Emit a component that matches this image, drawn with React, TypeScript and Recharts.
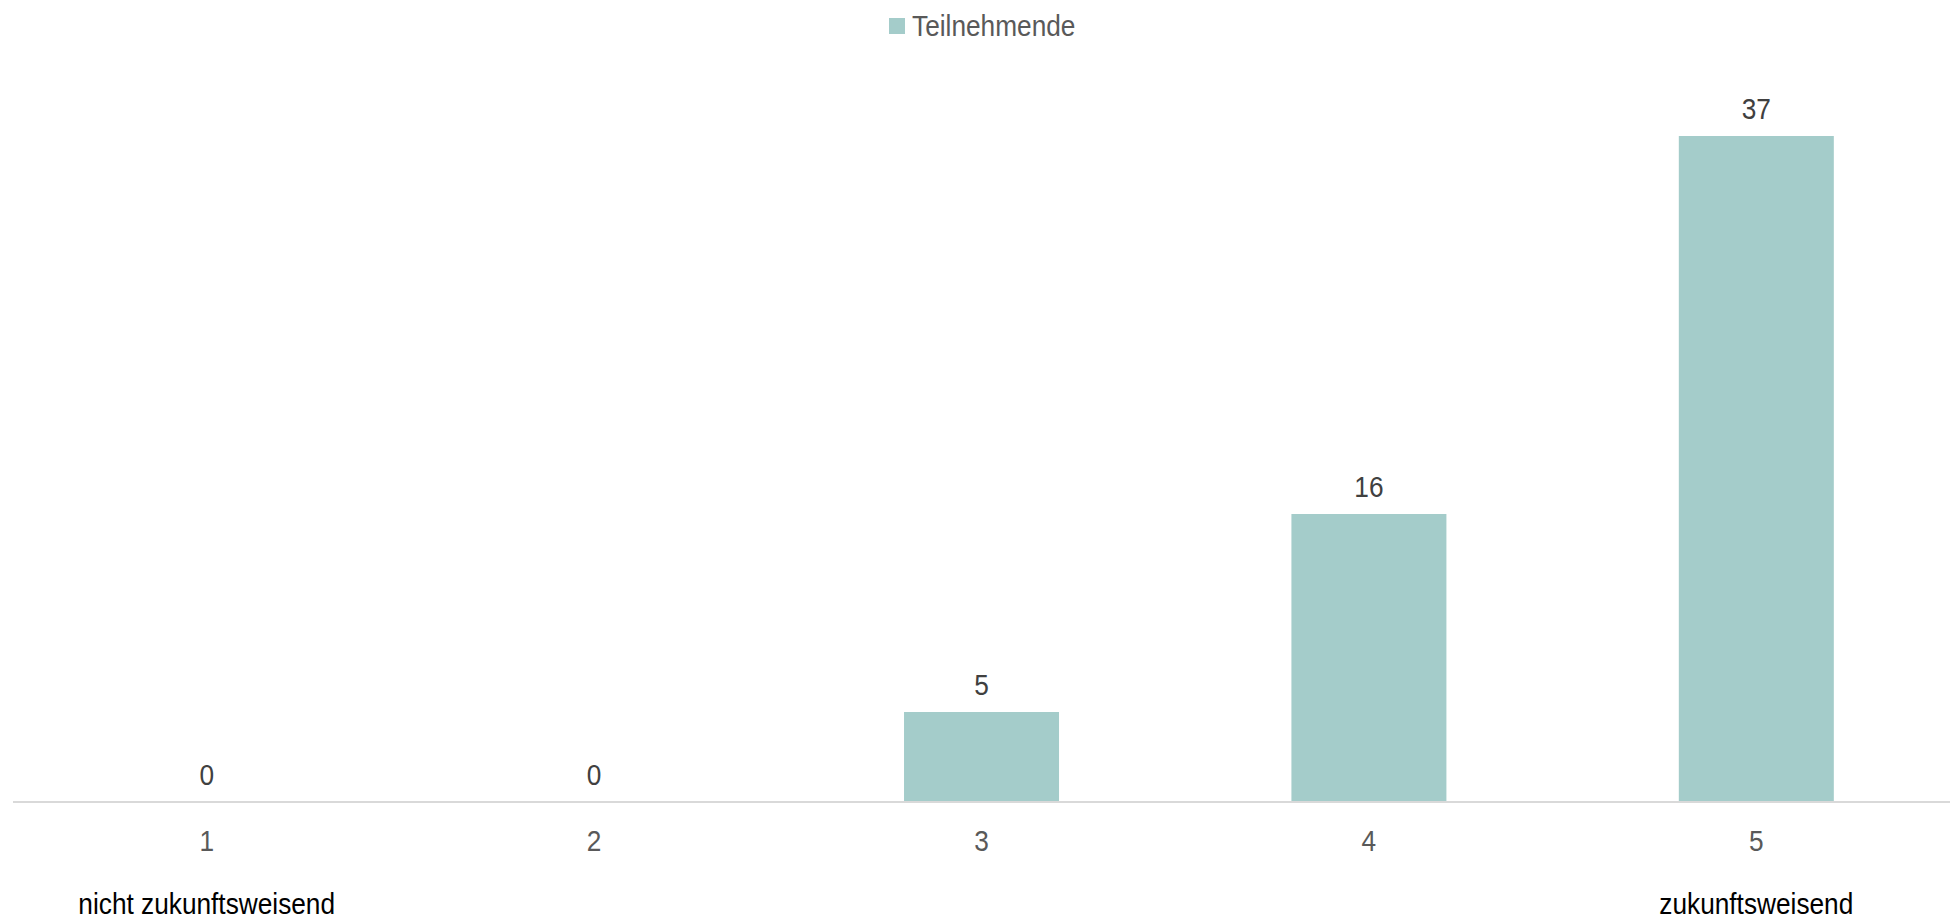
import { Bar, BarChart, LabelList, Legend, XAxis, YAxis } from 'recharts'

const categories = ['1', '2', '3', '4', '5']
const participants = [0, 0, 5, 16, 37]
const scaleHints = ['nicht zukunftsweisend', '', '', '', 'zukunftsweisend']
const seriesName = 'Teilnehmende'

const data = categories.map((c, i) => ({
  cat: c,
  value: participants[i],
}))

// no narrow font installed, so squeeze the regular one a bit
const FONT = "'Liberation Sans', Arial, sans-serif"
const SQUEEZE = 0.875
const BAR_COLOR = '#A4CCCA'

function NarrowText({ x, y, fill, children }: any) {
  return (
    <text
      transform={`translate(${x},${y}) scale(${SQUEEZE},1)`}
      x={0}
      y={0}
      textAnchor="middle"
      fill={fill}
      fontSize={30}
      fontFamily={FONT}
    >
      {children}
    </text>
  )
}

function CategoryTick(props: any) {
  const { x, y, payload, index } = props
  const hint = scaleHints[index] ?? ''
  return (
    <g>
      <NarrowText x={x} y={y + 41} fill="#595959">{payload.value}</NarrowText>
      {hint && <NarrowText x={x} y={y + 104} fill="#000000">{hint}</NarrowText>}
    </g>
  )
}

function ValueLabel(props: any) {
  const { x, y, width, value } = props
  return (
    <NarrowText x={Number(x) + Number(width) / 2} y={Number(y) - 17} fill="#404040">
      {value}
    </NarrowText>
  )
}

function LegendContent() {
  return (
    <div style={{ display: 'flex', justifyContent: 'center', alignItems: 'center', fontFamily: FONT }}>
      <span style={{ width: 16, height: 16, background: BAR_COLOR, display: 'inline-block', marginRight: 7 }} />
      <span
        style={{
          fontSize: 30,
          color: '#595959',
          lineHeight: '36px',
          display: 'inline-block',
          width: 163,
          whiteSpace: 'nowrap',
        }}
      >
        <span style={{ display: 'inline-block', transform: `scaleX(${SQUEEZE})`, transformOrigin: 'left center' }}>
          {seriesName}
        </span>
      </span>
    </div>
  )
}

export default function App() {
  return (
    <div style={{ position: 'absolute', left: 0, top: 0 }}>
      <BarChart
        width={1952}
        height={920}
        data={data}
        margin={{ top: 46, right: 2, bottom: 0, left: 13 }}
        barCategoryGap="30%"
      >
        <Legend verticalAlign="top" align="center" content={<LegendContent />} wrapperStyle={{ top: 8 }} />
        <XAxis
          dataKey="cat"
          height={118}
          tickLine={false}
          axisLine={{ stroke: '#D9D9D9', strokeWidth: 2 }}
          tick={<CategoryTick />}
          interval={0}
        />
        <YAxis hide domain={[0, 40]} />
        <Bar dataKey="value" name={seriesName} fill={BAR_COLOR} minPointSize={0.01} isAnimationActive={false}>
          <LabelList dataKey="value" content={<ValueLabel />} />
        </Bar>
      </BarChart>
    </div>
  )
}
